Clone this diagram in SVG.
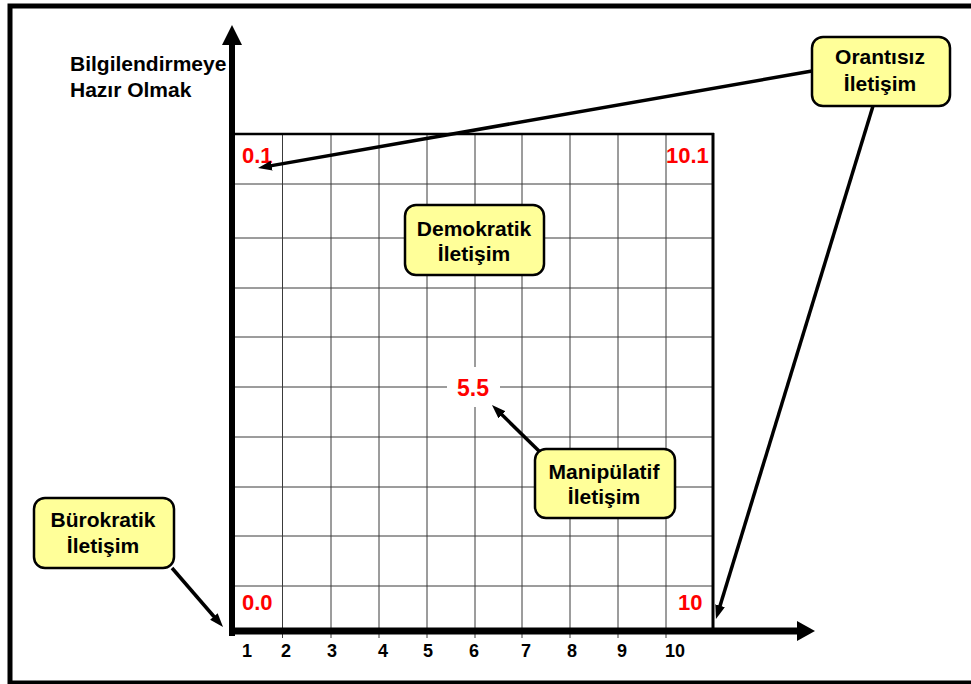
<svg xmlns="http://www.w3.org/2000/svg" width="971" height="684" viewBox="0 0 971 684">
<style>
text{font-family:"Liberation Sans",Arial,sans-serif;font-weight:bold}
.lbl{font-size:21px;fill:#000}
.box{fill:#FFFF99;stroke:#000;stroke-width:2.5}
.red{font-size:22px;fill:#FF0000}
.num{font-size:18px;fill:#000;text-anchor:middle}
.grid{stroke:#3a3a3a;stroke-width:1}
.arr{stroke:#000;stroke-width:3.5;fill:none;marker-end:url(#ah)}
</style>
<defs>
<marker id="ah" markerUnits="userSpaceOnUse" markerWidth="16" markerHeight="12" refX="6" refY="5" orient="auto">
<path d="M0,0 L14,5 L0,10 z" fill="#000"/>
</marker>
</defs>
<rect x="0" y="0" width="971" height="684" fill="#fff"/>
<rect x="10" y="6" width="975" height="677" fill="none" stroke="#000" stroke-width="5"/>
<g id="grid">
<g class="grid">
<line x1="282.5" y1="134" x2="282.5" y2="638"/>
<line x1="331" y1="134" x2="331" y2="638"/>
<line x1="379" y1="134" x2="379" y2="638"/>
<line x1="427" y1="134" x2="427" y2="638"/>
<line x1="475" y1="134" x2="475" y2="638"/>
<line x1="522" y1="134" x2="522" y2="638"/>
<line x1="570" y1="134" x2="570" y2="638"/>
<line x1="618" y1="134" x2="618" y2="638"/>
<line x1="666" y1="134" x2="666" y2="638"/>
<line x1="232" y1="184" x2="713" y2="184"/>
<line x1="232" y1="238" x2="713" y2="238"/>
<line x1="232" y1="288" x2="713" y2="288"/>
<line x1="232" y1="337" x2="713" y2="337"/>
<line x1="232" y1="387" x2="713" y2="387"/>
<line x1="232" y1="437" x2="713" y2="437"/>
<line x1="232" y1="487" x2="713" y2="487"/>
<line x1="232" y1="536" x2="713" y2="536"/>
<line x1="232" y1="586" x2="713" y2="586"/>
</g>
<line x1="232" y1="134" x2="714" y2="134" stroke="#000" stroke-width="2.5"/>
<line x1="713" y1="133" x2="713" y2="631" stroke="#000" stroke-width="3"/>
</g>
<g id="axes">
<line x1="232" y1="636" x2="232" y2="44" stroke="#000" stroke-width="6"/>
<polygon points="232,25 222,45 242,45" fill="#000"/>
<line x1="229" y1="631" x2="798" y2="631" stroke="#000" stroke-width="7"/>
<polygon points="815,631 797,621 797,641" fill="#000"/>
</g>
<g id="axis-title">
<text class="lbl" x="70" y="71">Bilgilendirmeye</text>
<text class="lbl" x="70" y="97">Hazır Olmak</text>
</g>
<g id="x-labels">
<text class="num" x="247" y="657">1</text>
<text class="num" x="286" y="657">2</text>
<text class="num" x="332" y="657">3</text>
<text class="num" x="383" y="657">4</text>
<text class="num" x="428" y="657">5</text>
<text class="num" x="474" y="657">6</text>
<text class="num" x="526" y="657">7</text>
<text class="num" x="572" y="657">8</text>
<text class="num" x="622" y="657">9</text>
<text class="num" x="675" y="657">10</text>
</g>
<g id="corner-labels">
<text class="red" x="242" y="163">0.1</text>
<text class="red" x="666" y="163">10.1</text>
<text class="red" x="242" y="610">0.0</text>
<text class="red" x="678" y="610">10</text>
</g>
<g id="center-55">
<rect x="447" y="367" width="53" height="40" fill="#fff"/>
<text class="red" x="473" y="396" text-anchor="middle" style="font-size:23px">5.5</text>
</g>
<g id="connectors">
<line class="arr" x1="812" y1="71" x2="265.9" y2="166.6"/>
<line class="arr" x1="873" y1="106" x2="718.3" y2="611.4"/>
<line class="arr" x1="540" y1="452" x2="497.7" y2="410.6"/>
<line class="arr" x1="172" y1="568" x2="217.8" y2="621"/>
</g>
<g id="orantisiz">
<rect class="box" x="812" y="37" width="138" height="69" rx="11"/>
<text class="lbl" x="880" y="64" text-anchor="middle">Orantısız</text>
<text class="lbl" x="880" y="91" text-anchor="middle">İletişim</text>
</g>
<g id="demokratik">
<rect class="box" x="405" y="205" width="139" height="70" rx="11"/>
<text class="lbl" x="474" y="236" text-anchor="middle">Demokratik</text>
<text class="lbl" x="474" y="261" text-anchor="middle">İletişim</text>
</g>
<g id="manipulatif">
<rect class="box" x="535" y="449" width="140" height="69" rx="11"/>
<text class="lbl" x="604" y="479" text-anchor="middle">Manipülatif</text>
<text class="lbl" x="604" y="504" text-anchor="middle">İletişim</text>
</g>
<g id="burokratik">
<rect class="box" x="34" y="498" width="140" height="70" rx="11"/>
<text class="lbl" x="103" y="527" text-anchor="middle">Bürokratik</text>
<text class="lbl" x="103" y="553" text-anchor="middle">İletişim</text>
</g>
</svg>
